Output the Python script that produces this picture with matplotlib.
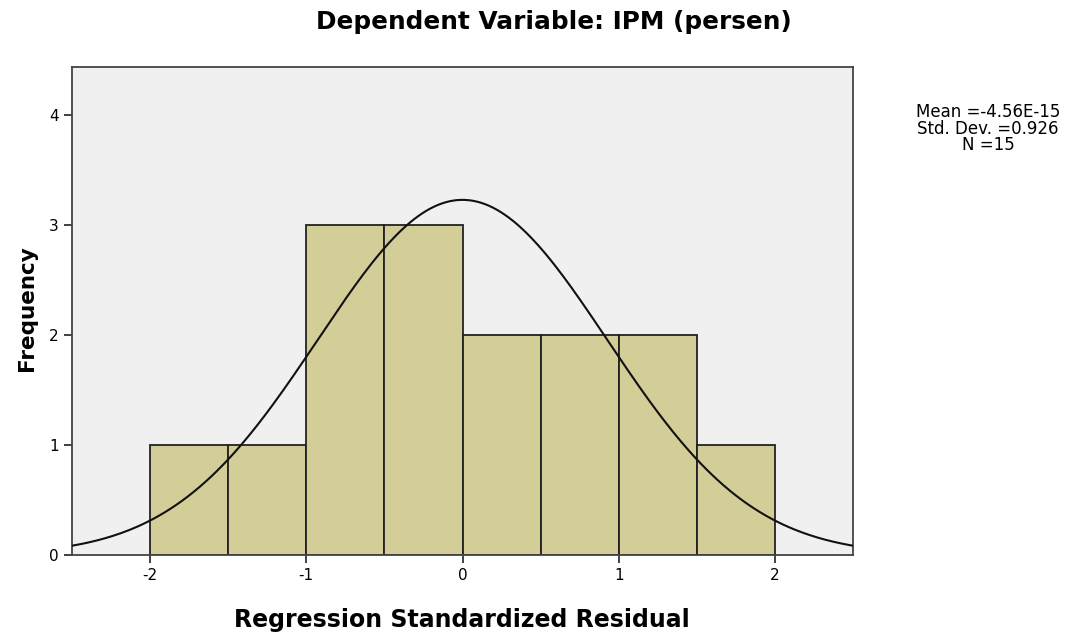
import numpy as np
import matplotlib
matplotlib.use("Agg")
import matplotlib.pyplot as plt

bin_edges = [-2.0, -1.5, -1.0, -0.5, 0.0, 0.5, 1.0, 1.5, 2.0]
counts = [1, 1, 3, 3, 2, 2, 2, 1]
mean = -4.56e-15
std = 0.926
n = 15
xticks = [-2, -1, 0, 1, 2]
yticks = [0, 1, 2, 3, 4]
stats_lines = ['Mean =-4.56E-15', 'Std. Dev. =0.926', 'N =15']

plt.rcParams['font.family'] = ['DejaVu Sans']

W, H = 1077, 637
fig = plt.figure(figsize=(W / 100, H / 100), dpi=100)
ax = fig.add_axes([72 / W, 1 - 555 / H, (853 - 72) / W, (555 - 67) / H])
ax.set_facecolor('#f0f0f0')

widths = np.diff(bin_edges)
ax.bar(bin_edges[:-1], counts, width=widths, align='edge', color='#d3ce97',
       edgecolor='#222222', linewidth=1.3, zorder=2)

xs = np.linspace(-2.5, 2.5, 400)
bw = 0.5
ys = n * bw / (std * np.sqrt(2 * np.pi)) * np.exp(-0.5 * ((xs - mean) / std) ** 2)
ax.plot(xs, ys, color='#111111', linewidth=1.5, zorder=3)

ax.set_xlim(-2.5, 2.5)
ax.set_ylim(0, 4.44)
ax.set_xticks(xticks)
ax.set_xticklabels([str(t) for t in xticks])
ax.set_yticks(yticks)
ax.tick_params(axis='both', direction='out', length=6, width=1.3, colors='#333333',
               labelsize=11, labelcolor='black')
for s in ax.spines.values():
    s.set_color('#444444')
    s.set_linewidth(1.3)

fig.text(554 / W, 1 - 29 / H, 'Dependent Variable: IPM (persen)', ha='center',
         va='baseline', fontsize=17.8, fontweight='bold')
fig.text(462 / W, 1 - 627 / H, 'Regression Standardized Residual', ha='center',
         va='baseline', fontsize=17, fontweight='bold')
fig.text(27 / W, 1 - 308 / H, 'Frequency', ha='center', va='center', rotation=90,
         fontsize=15.5, fontweight='bold')

for line, yb in zip(stats_lines, [117, 133.5, 150]):
    fig.text(988 / W, 1 - yb / H, line, ha='center', va='baseline', fontsize=12)

fig.savefig('out.png', dpi=100)
